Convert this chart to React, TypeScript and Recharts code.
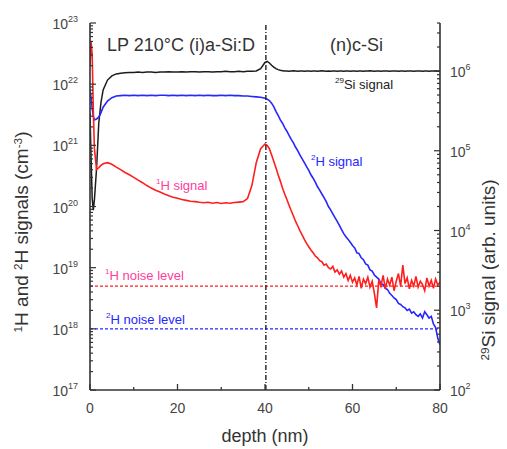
import React from 'react';
import { LineChart, Line, XAxis, YAxis, ReferenceLine } from 'recharts';

// depth grid (nm), finer near the surface and across the interface
const depth = [
  0, 0.25, 0.5, 0.75, 1, 1.5, 2, 2.5, 3,
  4, 5, 6, 7, 8, 9, 10, 11, 12, 13,
  14, 15, 16, 17, 18, 19, 20, 21, 22, 23,
  24, 25, 26, 27, 28, 29, 30, 31, 32, 33,
  34, 35, 36, 37, 38, 39,
  40, 40.5, 41, 41.5, 42, 42.5, 43, 43.5, 44, 44.5,
  45, 45.5, 46, 46.5, 47, 47.5, 48, 48.5, 49, 49.5,
  50, 50.5, 51, 51.5, 52, 52.5, 53, 53.5, 54, 54.5,
  55, 55.5, 56, 56.5, 57, 57.5, 58, 58.5, 59, 59.5,
  60, 60.5, 61, 61.5, 62, 62.5, 63, 63.5, 64, 64.5,
  65, 65.5, 66, 66.5, 67, 67.5, 68, 68.5, 69, 69.5,
  70, 70.5, 71, 71.5, 72, 72.5, 73, 73.5, 74, 74.5,
  75, 75.5, 76, 76.5, 77, 77.5, 78, 78.5, 79, 79.5,
  80,
];

// 1H signal (cm^-3)
const h1Signal = [
  2e22, 5e22, 3e22, 4e21, 9e20, 4e20, 4.3e20, 4.7e20, 5e20,
  5.2e20, 4.9e20, 4.4e20, 4e20, 3.6e20, 3.3e20, 3e20, 2.7e20, 2.45e20, 2.2e20,
  2e20, 1.85e20, 1.72e20, 1.6e20, 1.5e20, 1.42e20, 1.36e20, 1.3e20, 1.26e20, 1.22e20,
  1.2e20, 1.17e20, 1.15e20, 1.17e20, 1.13e20, 1.16e20, 1.12e20, 1.15e20, 1.13e20, 1.16e20,
  1.18e20, 1.2e20, 1.35e20, 2.2e20, 5.2e20, 8.8e20,
  1.05e21, 1.0e21, 8.8e20, 7e20, 5.5e20, 4.3e20, 3.3e20, 2.6e20, 2e20, 1.6e20,
  1.3e20, 1.05e20, 8.5e19, 7e19, 5.7e19, 4.8e19, 4e19, 3.4e19, 2.9e19, 2.5e19,
  2.2e19, 1.95e19, 1.75e19, 1.55e19, 1.45e19, 1.3e19, 1.25e19, 1.1e19, 1.15e19, 1.0e19,
  9.5e18, 1.05e19, 8.5e18, 9.2e18, 7.8e18, 8.8e18, 7e18, 8e18, 6.2e18, 7.5e18,
  5.8e18, 6.8e18, 5.2e18, 7.2e18, 4.6e18, 6.5e18, 5.5e18, 7e18, 4.8e18, 6e18,
  3.8e18, 2.2e18, 6.2e18, 5e18, 7.5e18, 4.5e18, 6.5e18, 5.2e18, 7e18, 4.2e18,
  6e18, 8e18, 5e18, 1.1e19, 5.5e18, 6.8e18, 4.5e18, 6.2e18, 5e18, 7.2e18,
  4.8e18, 6e18, 5.3e18, 4.2e18, 6.8e18, 5e18, 6.2e18, 4.6e18, 6.5e18, 5.2e18,
  5.8e18,
];

// 2H signal (cm^-3)
const h2Signal = [
  8e21, 6e21, 4e21, 3e21, 2.6e21, 2.7e21, 2.9e21, 3.4e21, 4.2e21,
  5.3e21, 6e21, 6.4e21, 6.5e21, 6.6e21, 6.5e21, 6.6e21, 6.5e21, 6.6e21, 6.5e21,
  6.6e21, 6.5e21, 6.6e21, 6.6e21, 6.5e21, 6.6e21, 6.5e21, 6.6e21, 6.5e21, 6.6e21,
  6.5e21, 6.6e21, 6.5e21, 6.6e21, 6.5e21, 6.5e21, 6.6e21, 6.5e21, 6.6e21, 6.5e21,
  6.5e21, 6.4e21, 6.4e21, 6.3e21, 6.2e21, 6.1e21,
  5.9e21, 5.7e21, 5.4e21, 4.9e21, 4.3e21, 3.6e21, 3.1e21, 2.6e21, 2.3e21, 1.95e21,
  1.7e21, 1.45e21, 1.25e21, 1.1e21, 9.3e20, 8.1e20, 6.9e20, 6e20, 5.2e20, 4.5e20,
  3.9e20, 3.3e20, 2.9e20, 2.5e20, 2.1e20, 1.85e20, 1.6e20, 1.4e20, 1.2e20, 1.0e20,
  8.8e19, 7.6e19, 6.6e19, 5.7e19, 4.9e19, 4.2e19, 3.6e19, 3.2e19, 2.9e19, 2.6e19,
  2.3e19, 2.1e19, 1.75e19, 1.7e19, 1.45e19, 1.35e19, 1.15e19, 1.1e19, 9.2e18, 8.8e18,
  7.6e18, 7e18, 6.5e18, 5.5e18, 5.3e18, 4.6e18, 4.4e18, 3.8e18, 3.5e18, 3.2e18,
  3e18, 2.6e18, 2.5e18, 2.3e18, 2.2e18, 2.0e18, 2.1e18, 1.8e18, 1.9e18, 1.7e18,
  1.6e18, 1.75e18, 1.5e18, 1.9e18, 1.7e18, 1.5e18, 1.6e18, 1.2e18, 1.05e18, 7e17,
  5.5e17,
];

// 29Si signal (arb. units)
const si29Signal = [
  3e5, 8e4, 2.5e4, 1.8e4, 2.4e4, 6e4, 2.2e5, 4e5, 5.8e5,
  7.7e5, 8.7e5, 9.2e5, 9.4e5, 9.5e5, 9.6e5, 9.6e5, 9.7e5, 9.6e5, 9.7e5,
  9.7e5, 9.6e5, 9.7e5, 9.7e5, 9.8e5, 9.7e5, 9.7e5, 9.8e5, 9.7e5, 9.8e5,
  9.8e5, 9.7e5, 9.8e5, 9.8e5, 9.7e5, 9.8e5, 9.8e5, 9.9e5, 9.8e5, 9.8e5,
  9.9e5, 9.8e5, 9.9e5, 9.9e5, 1.0e6, 1.07e6,
  1.28e6, 1.32e6, 1.26e6, 1.18e6, 1.12e6, 1.07e6, 1.04e6, 1.02e6, 1.01e6, 1.0e6,
  1.0e6, 9.9e5, 1.0e6, 1.01e6, 1.0e6, 9.9e5, 1.0e6, 1.0e6, 9.9e5, 1.0e6,
  1.0e6, 9.9e5, 1.0e6, 1.0e6, 9.9e5, 1.0e6, 1.01e6, 1.0e6, 9.9e5, 1.0e6,
  9.9e5, 1.0e6, 1.0e6, 9.9e5, 1.0e6, 1.0e6, 9.9e5, 1.0e6, 1.0e6, 9.9e5,
  1.0e6, 1.0e6, 9.9e5, 1.0e6, 1.0e6, 9.9e5, 1.0e6, 1.0e6, 1.01e6, 1.0e6,
  9.9e5, 1.0e6, 1.0e6, 9.9e5, 1.0e6, 1.0e6, 1.0e6, 9.9e5, 1.0e6, 1.0e6,
  1.0e6, 9.9e5, 1.0e6, 1.0e6, 9.9e5, 1.0e6, 1.0e6, 1.0e6, 9.9e5, 1.0e6,
  1.0e6, 1.0e6, 9.9e5, 1.0e6, 1.0e6, 9.9e5, 1.0e6, 1.0e6, 1.0e6, 9.9e5,
  1.0e6,
];

const depthTicks = [0, 10, 20, 30, 40, 50, 60, 70, 80];
const depthLabels = [0, 20, 40, 60, 80];
const leftDecades = [1e17, 1e18, 1e19, 1e20, 1e21, 1e22, 1e23];
const rightDecades = [1e2, 1e3, 1e4, 1e5, 1e6];

const H1_NOISE = 5e18;
const H2_NOISE = 1e18;
const INTERFACE = 40.2;

const FONT = '"Liberation Sans", Arial, sans-serif';
const AXIS = '#333';
const RED = '#ff1e1e';
const BLUE = '#2626ff';
const PINK = '#ff3d9e';

const withMinors = (decades: number[], max: number) =>
  decades.flatMap(d => [1, 2, 3, 4, 5, 6, 7, 8, 9].map(m => m * d)).filter(v => v <= max * 1.0001);

const leftTicks = withMinors(leftDecades, 1e23);
const rightTicks = withMinors(rightDecades, 4e6);

const data = depth.map((d, i) => ({
  depth: d,
  h1: h1Signal[i],
  h2: h2Signal[i],
  si: si29Signal[i],
}));

const isDecade = (v: number) => Math.abs(Math.log10(v) - Math.round(Math.log10(v))) < 1e-6;

const BottomTick = (props: any) => {
  const { x, y, payload } = props;
  const v = payload.value;
  const major = depthLabels.includes(v);
  return (
    <g>
      <line x1={x} y1={y} x2={x} y2={y - (major ? 6 : 3)} stroke={AXIS} strokeWidth={1.3} />
      {major && (
        <text x={x} y={y + 23} textAnchor="middle" fontSize={14} fill="#444" fontFamily={FONT}>
          {v}
        </text>
      )}
    </g>
  );
};

const TopTick = (props: any) => {
  const { x, y, payload } = props;
  const major = depthLabels.includes(payload.value);
  return <line x1={x} y1={y} x2={x} y2={y + (major ? 6 : 3)} stroke={AXIS} strokeWidth={1.3} />;
};

const PowerLabel = ({ x, y, v, anchor }: { x: number; y: number; v: number; anchor: string }) => {
  const exp = Math.round(Math.log10(v));
  return (
    <text x={x} y={y} textAnchor={anchor} fontSize={14} fill="#444" fontFamily={FONT}>
      <tspan>10</tspan>
      <tspan dy={-7} fontSize={9}>{exp}</tspan>
    </text>
  );
};

const LeftTick = (props: any) => {
  const { x, y, payload } = props;
  const major = isDecade(payload.value);
  return (
    <g>
      <line x1={x} y1={y} x2={x + (major ? 6 : 3)} y2={y} stroke={AXIS} strokeWidth={1.2} />
      {major && <PowerLabel x={x - 12} y={y + 6} v={payload.value} anchor="end" />}
    </g>
  );
};

const RightTick = (props: any) => {
  const { x, y, payload } = props;
  const major = isDecade(payload.value);
  return (
    <g>
      <line x1={x} y1={y} x2={x - (major ? 6 : 3)} y2={y} stroke={AXIS} strokeWidth={1.2} />
      {major && <PowerLabel x={x + 10} y={y + 6} v={payload.value} anchor="start" />}
    </g>
  );
};

const Sup = ({ children }: { children: React.ReactNode }) => (
  <tspan dy={-6} fontSize="0.62em">{children}</tspan>
);
const Down = ({ children }: { children: React.ReactNode }) => <tspan dy={6}>{children}</tspan>;

const App = () => {
  const W = 499;
  const H = 441;
  return (
    <div style={{ position: 'relative', width: W, height: H }}>
      <LineChart width={W} height={H} data={data} margin={{ top: 15, right: 0, bottom: 0, left: 0 }}>
        <XAxis
          xAxisId="bottom"
          dataKey="depth"
          type="number"
          domain={[0, 80]}
          ticks={depthTicks}
          interval={0}
          height={59}
          tickSize={0}
          tickMargin={0}
          tickLine={false}
          tick={BottomTick}
          axisLine={{ stroke: AXIS, strokeWidth: 1.6 }}
          allowDataOverflow
        />
        <XAxis
          xAxisId="top"
          orientation="top"
          dataKey="depth"
          type="number"
          domain={[0, 80]}
          ticks={depthTicks}
          interval={0}
          height={0}
          tickSize={0}
          tickMargin={0}
          tickLine={false}
          tick={TopTick}
          axisLine={{ stroke: AXIS, strokeWidth: 1.6 }}
          allowDataOverflow
        />
        <YAxis
          yAxisId="left"
          orientation="left"
          type="number"
          scale="log"
          domain={[1e17, 1e23]}
          ticks={leftTicks}
          interval={0}
          width={82}
          tickSize={0}
          tickMargin={0}
          tickLine={false}
          tick={LeftTick}
          axisLine={{ stroke: AXIS, strokeWidth: 1.6 }}
          allowDataOverflow
        />
        <YAxis
          yAxisId="right"
          orientation="right"
          type="number"
          scale="log"
          domain={[1e2, 4e6]}
          ticks={rightTicks}
          interval={0}
          width={67}
          tickSize={0}
          tickMargin={0}
          tickLine={false}
          tick={RightTick}
          axisLine={{ stroke: AXIS, strokeWidth: 1.6 }}
          allowDataOverflow
        />
        <ReferenceLine xAxisId="bottom" yAxisId="left" y={H1_NOISE} stroke={RED} strokeWidth={1.4} strokeDasharray="3 2" />
        <ReferenceLine xAxisId="bottom" yAxisId="left" y={H2_NOISE} stroke={BLUE} strokeWidth={1.4} strokeDasharray="3 2" />
        <Line xAxisId="bottom" yAxisId="right" dataKey="si" stroke="#1c1c1c" strokeWidth={1.5} dot={false} isAnimationActive={false} />
        <Line xAxisId="bottom" yAxisId="left" dataKey="h2" stroke={BLUE} strokeWidth={1.6} dot={false} isAnimationActive={false} />
        <Line xAxisId="bottom" yAxisId="left" dataKey="h1" stroke={RED} strokeWidth={1.6} dot={false} isAnimationActive={false} />
        <ReferenceLine xAxisId="bottom" yAxisId="left" x={INTERFACE} stroke="#222" strokeWidth={1.4} strokeDasharray="5 2 1 2" />
      </LineChart>
      <svg
        width={W}
        height={H}
        style={{ position: 'absolute', left: 0, top: 0, pointerEvents: 'none' }}
        fontFamily={FONT}
      >
        <text x={99} y={43} fontSize={18} fill="#333">LP 210°C (i)a-Si:D</text>
        <text x={322} y={43} fontSize={18} fill="#333">(n)c-Si</text>
        <text x={327} y={81} fontSize={13} fill="#222"><Sup>29</Sup><Down>Si signal</Down></text>
        <text x={303} y={158} fontSize={13} fill={BLUE}><Sup>2</Sup><Down>H signal</Down></text>
        <text x={148} y={182} fontSize={13} fill={PINK}><Sup>1</Sup><Down>H signal</Down></text>
        <text x={97} y={272} fontSize={13} fill={PINK}><Sup>1</Sup><Down>H noise level</Down></text>
        <text x={98} y={316} fontSize={13} fill={BLUE}><Sup>2</Sup><Down>H noise level</Down></text>
        <text x={257} y={434} fontSize={18} fill="#333" textAnchor="middle">depth (nm)</text>
        <text transform="translate(20,224) rotate(-90)" fontSize={19} fill="#333" textAnchor="middle">
          <Sup>1</Sup><Down>H and </Down><Sup>2</Sup><Down>H signals (cm</Down><Sup>-3</Sup><Down>)</Down>
        </text>
        <text transform="translate(487,262) rotate(-90)" fontSize={19} fill="#333" textAnchor="middle">
          <Sup>29</Sup><Down>Si signal (arb. units)</Down>
        </text>
      </svg>
    </div>
  );
};

export default App;
